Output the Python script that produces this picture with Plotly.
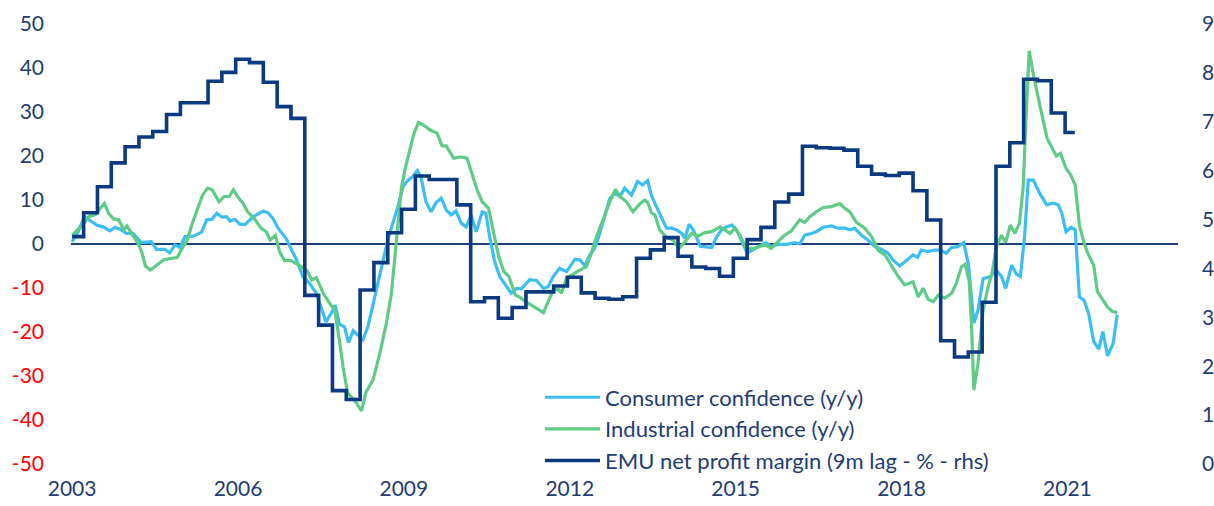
import plotly.graph_objects as go

# ---------------- data (months since Jan 2003) ----------------
cons_months = [0, 1.3, 2.7, 4.2, 5.3, 6.7, 8.2, 9.3, 10.7, 11.8, 13.2, 15, 17.2, 18.3, 20.1, 21.2, 22.3, 23.4,
               24.5, 26.3, 28.1, 29.2, 30.3, 31.4, 32.5, 33.5, 34.3, 35.3, 36.4, 37.5, 38.9, 40, 41.5, 42.5,
               43.6, 44.7, 45.8, 46.5, 47.3, 48.7, 50.1, 51.5, 53, 54, 55.1, 56.2, 57.1, 58, 59.1, 60, 61, 62,
               63.1, 64.2, 65.2, 66.3, 67.4, 68.5, 69.6, 70.7, 71.8, 72.8, 73.9, 74.9, 75.7, 76.8, 77.9, 79,
               80.1, 81.2, 82.3, 83.3, 84.4, 85.5, 86.6, 87.7, 89, 89.8, 90.6, 91.7, 92.8, 94.2, 95.3, 96.4,
               97.5, 99.3, 100.8, 102.3, 103.3, 104.4, 105.8, 107.3, 109.1, 110.2, 111.3, 112.3, 113.4, 114.5,
               115.6, 116.7, 117.8, 118.9, 119.9, 121.4, 122.7, 123.8, 124.9, 125.7, 126.8, 127.9, 129, 130.1,
               131.2, 132.3, 133, 133.9, 134.8, 136.3, 137.4, 138.8, 139.9, 141, 142.1, 143.2, 144.3, 145.4,
               146.5, 147.9, 149.4, 150.5, 151.7, 153.2, 155, 156.8, 157.9, 159, 160.4, 161.5, 163, 164.8,
               166.2, 167.7, 168.8, 169.8, 171.3, 172.7, 174.2, 175.6, 177.1, 178.1, 179.6, 181, 182.5, 183.5,
               184.3, 185.7, 187.2, 188.3, 189.7, 190.8, 192.2, 193.5, 194.5, 195.7, 196.6, 197.7, 199.2,
               200.6, 201.7, 202.6, 203.9, 204.9, 205.8, 206.7, 207.5, 208.6, 210, 211.5, 212.9, 214, 214.8,
               215.7, 216.8, 217.7, 218.6, 219.6, 220.6, 221.7, 222.8, 223.7, 224.7, 225.9, 226.8]
cons_values = [0.5, 2.8, 6.2, 5.1, 4.3, 3.9, 3.0, 3.8, 3.2, 2.4, 2.4, 0.3, 0.5, -1.2, -1.2, -2.0, -0.2, -0.8,
               1.7, 1.8, 2.7, 5.5, 5.6, 7.0, 6.1, 6.2, 5.2, 5.6, 4.5, 4.4, 5.8, 6.6, 7.5, 7.1,
               5.8, 3.6, 2.0, 1.2, -0.6, -3.6, -7.4, -8.9, -11.2, -14.2, -17.7, -15.8, -13.9, -18.2, -18.8, -22.4, -19.7, -20.7,
               -21.8, -18.8, -14.2, -8.9, -3.6, 0.9, 4.7, 8.5, 13.0, 14.4, 15.3, 16.7, 15.3, 9.6, 7.3, 9.4,
               10.4, 7.7, 6.6, 7.5, 4.8, 3.9, 6.6, 2.8, 7.3, 7.0, 1.7, -4.0, -7.4, -9.7, -11.2, -10.1,
               -10.2, -8.1, -8.3, -10.1, -9.7, -7.4, -5.5, -6.3, -3.5, -3.6, -5.0, -2.5, -1.0, 2.4,
               6.2, 10.4, 11.5, 10.8, 12.7, 11.1, 14.2, 13.4, 14.4, 11.1, 8.5, 6.2, 3.6, 3.6,
               3.2, 2.4, 1.3, 4.5, 3.2, -0.5, -0.7, -0.8, 1.7, 3.3, 3.9, 4.3, 3.0, 0.3,
               -2.1, -1.2, -0.3, 0.3, -0.6, -0.1, -0.1, 0.3, 0.0, 2.0, 2.4, 2.8, 3.8, 4.1,
               3.6, 3.6, 3.2, 3.6, 2.0, 0.9, -0.6, -1.2, -2.1, -3.6, -5.0, -3.8, -2.5, -3.0,
               -1.4, -1.7, -1.4, -1.4, -2.1, -0.8, -0.6, 0.3, -4.5, -18.0, -15.0, -7.9, -7.4,
               -6.0, -7.4, -10.1, -4.8, -6.8, -7.4, 1.7, 14.5, 14.5, 11.5, 8.9, 9.3, 8.9, 7.0,
               2.8, 3.8, 3.2, -12.0, -12.8, -15.8, -22.2, -23.9, -19.9, -25.4, -22.7, -16.1]

ind_months = [0, 1.3, 2.3, 3.6, 5.1, 6.1, 7, 7.9, 9, 10.1, 11.2, 11.9, 13, 14.5, 15.2, 15.9, 17, 18.4, 19.9,
              21.3, 22.8, 23.5, 25, 26.1, 27.2, 28.3, 29.4, 30.4, 31.9, 33, 34.1, 35, 36, 37, 38.1, 39.6,
              41, 42.1, 43, 44.1, 45, 46.1, 47.5, 49.2, 51, 52, 53, 54.5, 55.9, 57, 58, 58.8, 59.8, 61.3,
              62.8, 63.8, 65.3, 66.8, 68.2, 69.3, 70.4, 71.5, 72.3, 73.3, 74.2, 75.2, 76.3, 77.7, 79.2,
              80.3, 81.2, 82.8, 84.3, 85.7, 86.8, 87.9, 89, 90.4, 91.5, 92.6, 93.7, 94.8, 96.2, 97.3,
              98.6, 100.4, 102.3, 103.3, 104.4, 105.5, 106.2, 107.3, 108.7, 110.2, 111.6, 112.7, 113.4,
              114.5, 115.6, 116.7, 117.9, 118.9, 120.3, 121.7, 123.2, 124.3, 125, 125.7, 126.5, 127.5,
              129, 130.4, 131.7, 133, 134.4, 135.9, 137.3, 138.8, 140.6, 141.7, 142.8, 143.9, 144.9,
              146.4, 147.9, 149.4, 150.5, 151.7, 153.2, 154.3, 156.1, 157.9, 159, 160.1, 161.5, 163,
              164.8, 166.6, 167.7, 168.8, 170.2, 172, 173.5, 174.9, 176.4, 177.8, 179.3, 180.7, 182.5,
              183.6, 184.7, 185.8, 186.9, 188, 189.4, 190.9, 191.9, 193, 193.8, 194.7, 195.2, 195.7,
              196.6, 197.7, 198.8, 199.6, 200.6, 201.7, 202.6, 203.6, 204.6, 205.6, 206.4, 207, 207.7,
              208.7, 209.7, 210.7, 211.6, 212.8, 213.6, 214.5, 215.7, 216.7, 217.7, 218.6, 219.6, 220.6,
              221.7, 222.5, 223.5, 224.6, 225.7, 226.8]
ind_values = [2.0, 3.2, 4.3, 6.2, 6.7, 8.1, 9.2, 7.0, 5.7, 5.5, 3.2, 4.1, 2.4, -0.2, -2.1, -5.0, -5.9, -4.8, -3.6,
              -3.3, -3.1, -1.7, 0.9, 4.7, 7.7, 11.1, 12.7, 12.3, 9.6, 10.8, 10.8, 12.3, 10.6, 9.4, 7.3, 5.7,
              3.6, 2.8, 0.9, 2.0, -1.7, -3.8, -3.8, -4.8, -6.1, -8.2, -7.6, -11.2, -13.5, -15.0, -21.8, -27.9, -33.9, -35.5,
              -37.9, -33.6, -30.9, -24.8, -18.0, -11.2, 0.9, 13.0, 17.2, 21.4, 25.2, 27.6, 27.0, 25.9, 25.2,
              22.3, 22.3, 19.5, 19.8, 19.5, 16.1, 12.3, 9.6, 8.1, 2.4, -2.9, -6.3, -7.4, -11.6, -12.2,
              -13.2, -14.3, -15.6, -13.1, -10.5, -10.3, -11.2, -7.8, -6.8, -5.9, -5.2, -2.1, 0.5,
              3.6, 7.0, 9.6, 12.4, 10.8, 9.6, 7.3, 9.1, 10.0, 9.3, 7.1, 6.6, 3.2,
              1.5, 0.9, -1.0, 0.5, 2.4, 1.8, 2.6, 2.8, 3.9, 3.2, 2.4, 3.6, 2.0,
              -1.0, -1.0, -0.5, -0.2, -1.0, 0.5, 1.7, 3.0, 5.5, 4.9, 6.2, 7.3, 8.3,
              8.5, 9.2, 8.1, 7.3, 4.9, 3.6, 1.7, -1.4, -2.5, -4.8, -7.4, -9.3, -8.6,
              -12.0, -10.1, -12.6, -13.1, -11.6, -12.3, -11.2, -8.9, -5.2, -4.6, -8.5, -18.8, -33.2,
              -27.1, -15.0, -9.7, -6.8, -0.6, 2.0, 0.3, 4.3, 2.4, 4.7, 13.0, 28.2, 43.9,
              38.0, 32.7, 28.2, 24.0, 21.7, 20.0, 20.6, 17.2, 15.7, 13.4, 4.3, 0.2, -2.5,
              -4.8, -10.8, -12.3, -14.2, -15.3, -15.6]

# EMU net profit margin, quarterly (9m lag, %, rhs)
margin_values = [4.65, 5.14, 5.67, 6.16, 6.49, 6.69, 6.80, 7.15, 7.39, 7.39, 7.83, 8.01, 8.28, 8.21, 7.81, 7.31,
                 7.07, 3.45, 2.84, 1.50, 1.32, 3.56, 4.12, 4.73, 5.21, 5.89, 5.82, 5.82, 5.30, 3.32, 3.40, 2.98,
                 3.20, 3.52, 3.52, 3.64, 3.82, 3.50, 3.39, 3.37, 3.42, 4.21, 4.38, 4.63, 4.25, 4.03, 4.00, 3.84,
                 4.21, 4.59, 4.84, 5.36, 5.52, 6.50, 6.47, 6.46, 6.42, 6.09, 5.93, 5.90, 5.95, 5.59, 4.99, 2.52,
                 2.19, 2.29, 3.31, 6.09, 6.57, 7.87, 7.84, 7.18, 6.78, 6.78]
margin_months = [0] + [3 * k - 0.5 for k in range(1, 73)] + [217.6]

year_ticks = [2003, 2006, 2009, 2012, 2015, 2018, 2021]
left_ticks = [-50, -40, -30, -20, -10, 0, 10, 20, 30, 40, 50]
right_ticks = [0, 1, 2, 3, 4, 5, 6, 7, 8, 9]

NAVY_TXT = "#1F3C73"
FONT = "Lato"


def to_year(months):
    return [2003 + m / 12.0 for m in months]


fig = go.Figure()
fig.add_trace(go.Scatter(x=to_year(cons_months), y=cons_values, mode="lines",
                         name="Consumer confidence (y/y)",
                         line=dict(color="#3DBEF3", width=3.2)))
fig.add_trace(go.Scatter(x=to_year(ind_months), y=ind_values, mode="lines",
                         name="Industrial confidence (y/y)",
                         line=dict(color="#5FCB86", width=3.2)))
fig.add_trace(go.Scatter(x=to_year(margin_months), y=margin_values, mode="lines",
                         name="EMU net profit margin (9m lag - % - rhs)", yaxis="y2",
                         line=dict(color="#0B3A80", width=3.6, shape="hv")))

left_text = [(f'<span style="color:#FF0000">{v}</span>' if v < 0 else str(v)) for v in left_ticks]

fig.update_layout(
    width=1214, height=506,
    margin=dict(l=71, r=36, t=24, b=42),
    paper_bgcolor="white", plot_bgcolor="white",
    font=dict(family=FONT, size=21, color=NAVY_TXT),
    showlegend=True,
    legend=dict(x=0.4237, y=0.199, xanchor="left", yanchor="top",
                bgcolor="rgba(0,0,0,0)", font=dict(size=22, color=NAVY_TXT),
                itemwidth=55, tracegroupgap=0),
    xaxis=dict(range=[2002.98, 2023.0], tickvals=year_ticks, ticktext=[str(y) for y in year_ticks],
               showgrid=False, zeroline=False, showline=False, ticks="", ticklabelstandoff=10,
               automargin=False),
    yaxis=dict(range=[-50, 50], tickvals=left_ticks, ticktext=left_text, showgrid=False,
               zeroline=True, zerolinecolor="#1F3F7A", zerolinewidth=1.5, showline=False, ticks="",
               ticklabelstandoff=26, automargin=False),
    yaxis2=dict(range=[0, 9], tickvals=right_ticks, overlaying="y", side="right", showgrid=False,
                zeroline=False, showline=False, ticks="", ticklabelstandoff=23, automargin=False),
)

fig.write_html("out.html", config={"displayModeBar": False},
               post_script="document.body.style.margin='0';")
